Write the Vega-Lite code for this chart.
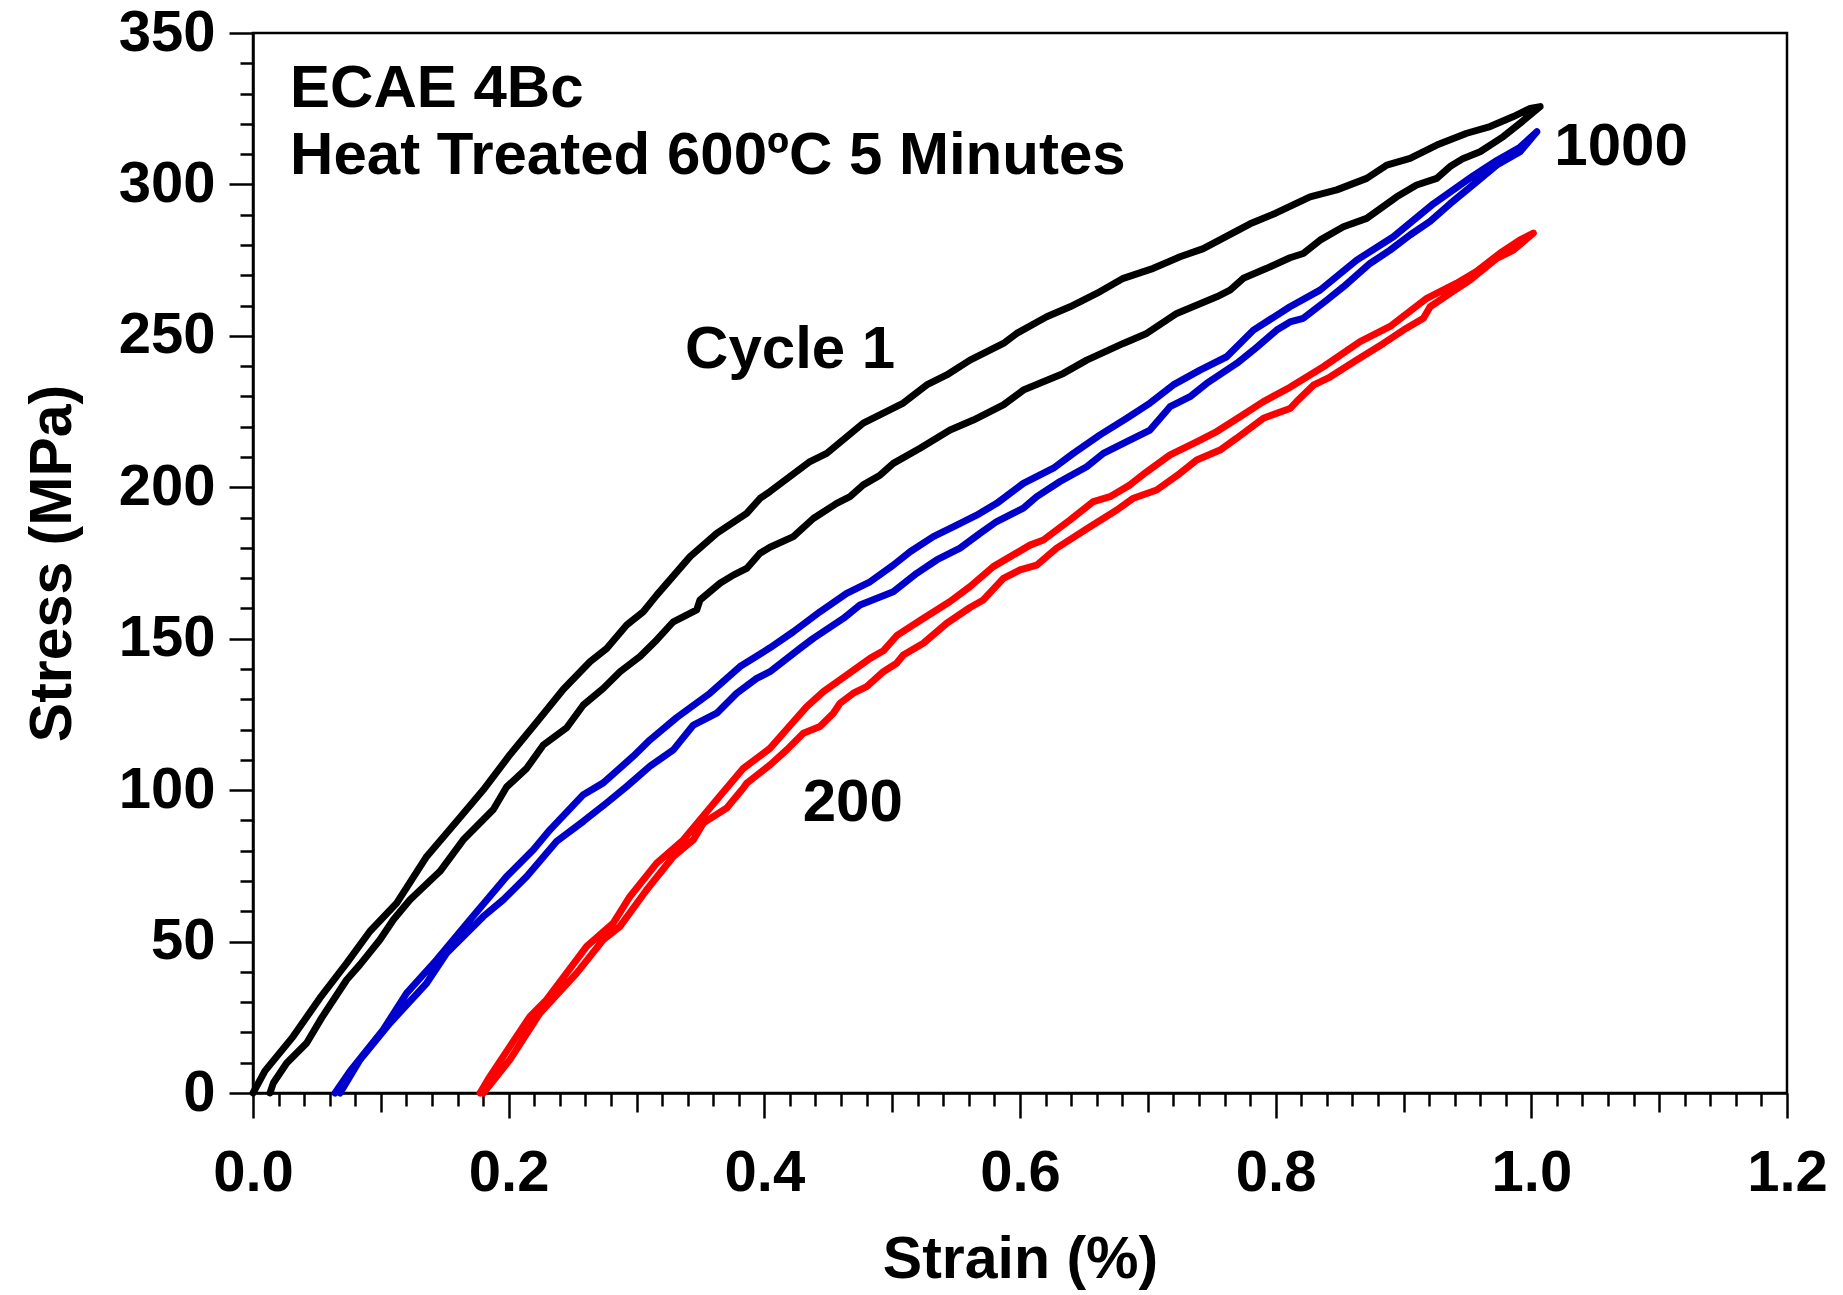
{
"$schema": "https://vega.github.io/schema/vega-lite/v6.json",
"width": 1534, "height": 1060,
"autosize": {"type": "none"},
"padding": {"left": 253, "top": 33, "right": 56, "bottom": 202},
"background": "white",
"config": {
  "view": {"stroke": "#000000", "strokeWidth": 2.5},
  "font": "Liberation Sans",
  "line": {"strokeWidth": 7},
  "axis": {"domainColor": "#000000", "domainWidth": 2.5, "tickColor": "#000000", "tickWidth": 2.5, "labelFont": "Liberation Sans", "labelFontWeight": "bold", "labelFontSize": 58, "labelColor": "#000000", "titleFont": "Liberation Sans", "titleFontWeight": "bold", "titleFontSize": 59, "titleColor": "#000000", "grid": false, "labelOverlap": false, "labelFlush": false, "labelBound": false}
},
"encoding": {
  "x": {"field": "x", "type": "quantitative", "scale": {"domain": [0, 1.2], "nice": false},
    "axis": {"title": "Strain (%)", "values": [0,0.02,0.04,0.06,0.08,0.1,0.12,0.14,0.16,0.18,0.2,0.22,0.24,0.26,0.28,0.3,0.32,0.34,0.36,0.38,0.4,0.42,0.44,0.46,0.48,0.5,0.52,0.54,0.56,0.58,0.6,0.62,0.64,0.66,0.68,0.7,0.72,0.74,0.76,0.78,0.8,0.82,0.84,0.86,0.88,0.9,0.92,0.94,0.96,0.98,1,1.02,1.04,1.06,1.08,1.1,1.12,1.14,1.16,1.18,1.2],
      "tickSize": {"condition": [{"test": "abs(datum.value*5-round(datum.value*5))<0.001", "value": 25}, {"test": "abs(datum.value*10-round(datum.value*10))<0.001", "value": 19}], "value": 13},
      "labelExpr": "abs(datum.value*5-round(datum.value*5))<0.001 ? format(datum.value,'.1f') : ''",
      "labelPadding": 26, "titlePadding": 28}},
  "y": {"field": "y", "type": "quantitative", "scale": {"domain": [0, 350], "nice": false},
    "axis": {"title": "Stress (MPa)", "values": [0,10,20,30,40,50,60,70,80,90,100,110,120,130,140,150,160,170,180,190,200,210,220,230,240,250,260,270,280,290,300,310,320,330,340,350],
      "tickSize": {"condition": [{"test": "abs(datum.value/50-round(datum.value/50))<0.001", "value": 24}], "value": 13},
      "labelExpr": "abs(datum.value/50-round(datum.value/50))<0.001 ? format(datum.value,'d') : ''",
      "labelPadding": 14, "titlePadding": 36}}
},
"layer": [
{
  "data": {"values": [
{"s":"k","x":0,"y":0},{"s":"k","x":0.0094,"y":7.3},{"s":"k","x":0.0315,"y":18.7},{"s":"k","x":0.0524,"y":31.4},{"s":"k","x":0.0733,"y":42.9},{"s":"k","x":0.0915,"y":53.4},{"s":"k","x":0.1124,"y":62.7},{"s":"k","x":0.1359,"y":78.1},{"s":"k","x":0.1594,"y":89.7},{"s":"k","x":0.1802,"y":100.1},{"s":"k","x":0.201,"y":111.7},{"s":"k","x":0.2219,"y":122.4},{"s":"k","x":0.2428,"y":133.3},{"s":"k","x":0.2636,"y":142.4},{"s":"k","x":0.2767,"y":146.8},{"s":"k","x":0.2923,"y":154.5},{"s":"k","x":0.3053,"y":158.9},{"s":"k","x":0.3158,"y":164.4},{"s":"k","x":0.3419,"y":177.1},{"s":"k","x":0.3627,"y":184.8},{"s":"k","x":0.3862,"y":191.4},{"s":"k","x":0.3966,"y":196.3},{"s":"k","x":0.4044,"y":198.6},{"s":"k","x":0.4357,"y":208.5},{"s":"k","x":0.4488,"y":211.2},{"s":"k","x":0.4774,"y":221.2},{"s":"k","x":0.5087,"y":227.8},{"s":"k","x":0.527,"y":233.8},{"s":"k","x":0.5427,"y":237.1},{"s":"k","x":0.5609,"y":242},{"s":"k","x":0.587,"y":247.5},{"s":"k","x":0.5974,"y":250.8},{"s":"k","x":0.6209,"y":256.3},{"s":"k","x":0.6391,"y":259.6},{"s":"k","x":0.66,"y":264},{"s":"k","x":0.6808,"y":269},{"s":"k","x":0.7043,"y":272.3},{"s":"k","x":0.7252,"y":276.1},{"s":"k","x":0.7434,"y":278.8},{"s":"k","x":0.76,"y":282.5},{"s":"k","x":0.78,"y":287},{"s":"k","x":0.8,"y":290.5},{"s":"k","x":0.8269,"y":295.9},{"s":"k","x":0.8478,"y":298.2},{"s":"k","x":0.8712,"y":302},{"s":"k","x":0.8869,"y":306.4},{"s":"k","x":0.9051,"y":308.6},{"s":"k","x":0.926,"y":313},{"s":"k","x":0.9495,"y":316.9},{"s":"k","x":0.9677,"y":319.1},{"s":"k","x":0.986,"y":322.4},{"s":"k","x":0.9991,"y":325.1},{"s":"k","x":1.0069,"y":325.7},
{"s":"k","x":0.9912,"y":320.2},{"s":"k","x":0.9781,"y":315.8},{"s":"k","x":0.9599,"y":310.8},{"s":"k","x":0.9468,"y":308.6},{"s":"k","x":0.9364,"y":305.9},{"s":"k","x":0.926,"y":302},{"s":"k","x":0.9103,"y":299.8},{"s":"k","x":0.8947,"y":295.9},{"s":"k","x":0.8712,"y":288.8},{"s":"k","x":0.853,"y":286},{"s":"k","x":0.8347,"y":281.6},{"s":"k","x":0.8216,"y":277.2},{"s":"k","x":0.8112,"y":275.8},{"s":"k","x":0.793,"y":272.3},{"s":"k","x":0.7747,"y":269},{"s":"k","x":0.7643,"y":265.1},{"s":"k","x":0.7539,"y":262.9},{"s":"k","x":0.7226,"y":257.4},{"s":"k","x":0.6991,"y":250.8},{"s":"k","x":0.6808,"y":247.5},{"s":"k","x":0.6522,"y":242},{"s":"k","x":0.6339,"y":237.6},{"s":"k","x":0.6026,"y":232.1},{"s":"k","x":0.587,"y":227.2},{"s":"k","x":0.5635,"y":222.2},{"s":"k","x":0.5453,"y":218.9},{"s":"k","x":0.5218,"y":212.9},{"s":"k","x":0.5009,"y":207.9},{"s":"k","x":0.4905,"y":204},{"s":"k","x":0.4774,"y":200.8},{"s":"k","x":0.467,"y":196.9},{"s":"k","x":0.4566,"y":194.7},{"s":"k","x":0.4383,"y":189.7},{"s":"k","x":0.4227,"y":183.7},{"s":"k","x":0.4044,"y":180.2},{"s":"k","x":0.3966,"y":178.2},{"s":"k","x":0.3862,"y":173.2},{"s":"k","x":0.3757,"y":171},{"s":"k","x":0.3653,"y":168.3},{"s":"k","x":0.3497,"y":162.8},{"s":"k","x":0.3471,"y":159.5},{"s":"k","x":0.3288,"y":155.6},{"s":"k","x":0.3158,"y":149.6},{"s":"k","x":0.3027,"y":144.1},{"s":"k","x":0.2871,"y":139.1},{"s":"k","x":0.274,"y":133.6},{"s":"k","x":0.2584,"y":128.1},{"s":"k","x":0.2454,"y":120.6},{"s":"k","x":0.2271,"y":114.9},{"s":"k","x":0.2141,"y":107.2},{"s":"k","x":0.1985,"y":101.1},{"s":"k","x":0.188,"y":93.6},{"s":"k","x":0.1645,"y":83.6},{"s":"k","x":0.1463,"y":73.2},{"s":"k","x":0.1228,"y":63.8},{"s":"k","x":0.1098,"y":57.2},{"s":"k","x":0.0993,"y":50.6},{"s":"k","x":0.0837,"y":42.4},{"s":"k","x":0.0733,"y":37.4},{"s":"k","x":0.0537,"y":24.8},{"s":"k","x":0.042,"y":16.5},{"s":"k","x":0.0264,"y":9.9},{"s":"k","x":0.0159,"y":3.3},{"s":"k","x":0.0133,"y":0},
{"s":"b","x":0.0642,"y":0},{"s":"b","x":0.0759,"y":7.2},{"s":"b","x":0.1019,"y":20.9},{"s":"b","x":0.1202,"y":33},{"s":"b","x":0.1437,"y":44},{"s":"b","x":0.1698,"y":57.2},{"s":"b","x":0.1984,"y":71.5},{"s":"b","x":0.2193,"y":80.3},{"s":"b","x":0.2323,"y":86.9},{"s":"b","x":0.2584,"y":98.5},{"s":"b","x":0.274,"y":102.4},{"s":"b","x":0.2975,"y":111.2},{"s":"b","x":0.3106,"y":116.6},{"s":"b","x":0.3315,"y":124},{"s":"b","x":0.3575,"y":132},{"s":"b","x":0.381,"y":140.8},{"s":"b","x":0.4044,"y":147},{"s":"b","x":0.4227,"y":152.3},{"s":"b","x":0.4435,"y":158.9},{"s":"b","x":0.4644,"y":165},{"s":"b","x":0.4827,"y":168.8},{"s":"b","x":0.5009,"y":174.3},{"s":"b","x":0.514,"y":178.7},{"s":"b","x":0.5322,"y":183.7},{"s":"b","x":0.5505,"y":187.5},{"s":"b","x":0.5661,"y":190.8},{"s":"b","x":0.5818,"y":194.7},{"s":"b","x":0.6026,"y":201.3},{"s":"b","x":0.6261,"y":206.3},{"s":"b","x":0.6417,"y":211.2},{"s":"b","x":0.6626,"y":217.3},{"s":"b","x":0.6835,"y":222.8},{"s":"b","x":0.7017,"y":227.8},{"s":"b","x":0.7199,"y":233.8},{"s":"b","x":0.7408,"y":238.7},{"s":"b","x":0.7617,"y":243.1},{"s":"b","x":0.7826,"y":251.9},{"s":"b","x":0.8112,"y":259.6},{"s":"b","x":0.8347,"y":265.1},{"s":"b","x":0.8634,"y":275},{"s":"b","x":0.8921,"y":282.7},{"s":"b","x":0.9234,"y":293.6},{"s":"b","x":0.9547,"y":302.9},{"s":"b","x":0.973,"y":307.9},{"s":"b","x":0.9912,"y":312.3},{"s":"b","x":1.0043,"y":317.4},
{"s":"b","x":0.9912,"y":310.8},{"s":"b","x":0.973,"y":306.4},{"s":"b","x":0.9573,"y":300.9},{"s":"b","x":0.9364,"y":293.6},{"s":"b","x":0.9208,"y":287.8},{"s":"b","x":0.9051,"y":283.3},{"s":"b","x":0.8895,"y":278.3},{"s":"b","x":0.8738,"y":273.9},{"s":"b","x":0.853,"y":266.2},{"s":"b","x":0.84,"y":261.8},{"s":"b","x":0.8216,"y":255.8},{"s":"b","x":0.8112,"y":254.6},{"s":"b","x":0.8008,"y":251.9},{"s":"b","x":0.7826,"y":245.3},{"s":"b","x":0.7695,"y":240.9},{"s":"b","x":0.746,"y":234.3},{"s":"b","x":0.733,"y":229.9},{"s":"b","x":0.7174,"y":226.6},{"s":"b","x":0.7017,"y":218.9},{"s":"b","x":0.6808,"y":214.5},{"s":"b","x":0.6652,"y":211.2},{"s":"b","x":0.6522,"y":206.8},{"s":"b","x":0.6313,"y":201.9},{"s":"b","x":0.6131,"y":196.9},{"s":"b","x":0.6026,"y":193.1},{"s":"b","x":0.5818,"y":188.7},{"s":"b","x":0.5687,"y":184.8},{"s":"b","x":0.5531,"y":179.9},{"s":"b","x":0.5348,"y":176},{"s":"b","x":0.5192,"y":171.6},{"s":"b","x":0.5009,"y":165.5},{"s":"b","x":0.4748,"y":161.1},{"s":"b","x":0.4618,"y":156.7},{"s":"b","x":0.4383,"y":150.1},{"s":"b","x":0.4279,"y":146.8},{"s":"b","x":0.4044,"y":139.1},{"s":"b","x":0.394,"y":136.9},{"s":"b","x":0.3784,"y":132},{"s":"b","x":0.3628,"y":125.4},{"s":"b","x":0.3445,"y":121.5},{"s":"b","x":0.3288,"y":113.3},{"s":"b","x":0.3106,"y":107.9},{"s":"b","x":0.2923,"y":101.2},{"s":"b","x":0.2767,"y":95.8},{"s":"b","x":0.2584,"y":89.7},{"s":"b","x":0.2376,"y":83.1},{"s":"b","x":0.2141,"y":71.5},{"s":"b","x":0.1958,"y":63.8},{"s":"b","x":0.1802,"y":58.3},{"s":"b","x":0.1515,"y":46.2},{"s":"b","x":0.1359,"y":36.3},{"s":"b","x":0.1072,"y":23.1},{"s":"b","x":0.0837,"y":11},{"s":"b","x":0.0681,"y":0},
{"s":"r","x":0.1776,"y":0},{"s":"r","x":0.1854,"y":5.5},{"s":"r","x":0.201,"y":15.4},{"s":"r","x":0.2167,"y":25.3},{"s":"r","x":0.2297,"y":30.8},{"s":"r","x":0.261,"y":48.4},{"s":"r","x":0.2818,"y":56.1},{"s":"r","x":0.2949,"y":64.9},{"s":"r","x":0.3158,"y":75.9},{"s":"r","x":0.3367,"y":83.6},{"s":"r","x":0.3628,"y":96.8},{"s":"r","x":0.3836,"y":107.2},{"s":"r","x":0.4044,"y":113.8},{"s":"r","x":0.4227,"y":122.6},{"s":"r","x":0.4332,"y":127.6},{"s":"r","x":0.4462,"y":132.5},{"s":"r","x":0.4644,"y":138},{"s":"r","x":0.4827,"y":143.5},{"s":"r","x":0.4931,"y":146},{"s":"r","x":0.5035,"y":151},{"s":"r","x":0.5218,"y":156},{"s":"r","x":0.5453,"y":162.3},{"s":"r","x":0.5609,"y":167.2},{"s":"r","x":0.5791,"y":173.8},{"s":"r","x":0.6078,"y":180.9},{"s":"r","x":0.6183,"y":182.6},{"s":"r","x":0.6391,"y":189.2},{"s":"r","x":0.6574,"y":195.3},{"s":"r","x":0.6704,"y":196.9},{"s":"r","x":0.6861,"y":200.8},{"s":"r","x":0.6991,"y":205.1},{"s":"r","x":0.7174,"y":210.7},{"s":"r","x":0.7382,"y":215},{"s":"r","x":0.7539,"y":218.4},{"s":"r","x":0.7721,"y":223.3},{"s":"r","x":0.7904,"y":228.3},{"s":"r","x":0.8112,"y":233},{"s":"r","x":0.8373,"y":239.8},{"s":"r","x":0.866,"y":248.1},{"s":"r","x":0.8895,"y":253.1},{"s":"r","x":0.9182,"y":262.4},{"s":"r","x":0.9416,"y":267.4},{"s":"r","x":0.9573,"y":271.3},{"s":"r","x":0.9755,"y":277.3},{"s":"r","x":0.9912,"y":281.7},{"s":"r","x":1.0016,"y":283.9},
{"s":"r","x":0.9938,"y":281.1},{"s":"r","x":0.986,"y":278.3},{"s":"r","x":0.973,"y":275.6},{"s":"r","x":0.9521,"y":268.4},{"s":"r","x":0.9364,"y":264},{"s":"r","x":0.9208,"y":259.6},{"s":"r","x":0.9156,"y":255.8},{"s":"r","x":0.8999,"y":251.9},{"s":"r","x":0.8843,"y":247.5},{"s":"r","x":0.8634,"y":242},{"s":"r","x":0.8425,"y":236.4},{"s":"r","x":0.8295,"y":233.7},{"s":"r","x":0.8164,"y":228.3},{"s":"r","x":0.8112,"y":226},{"s":"r","x":0.7904,"y":222.8},{"s":"r","x":0.7695,"y":216.2},{"s":"r","x":0.7565,"y":212.3},{"s":"r","x":0.7382,"y":209},{"s":"r","x":0.7252,"y":204.6},{"s":"r","x":0.7069,"y":199.1},{"s":"r","x":0.6887,"y":196.4},{"s":"r","x":0.6757,"y":192.5},{"s":"r","x":0.6548,"y":187},{"s":"r","x":0.6287,"y":179.9},{"s":"r","x":0.6131,"y":174.3},{"s":"r","x":0.6,"y":172.7},{"s":"r","x":0.587,"y":169.9},{"s":"r","x":0.5713,"y":162.8},{"s":"r","x":0.5609,"y":160.3},{"s":"r","x":0.5427,"y":155.1},{"s":"r","x":0.5244,"y":148.5},{"s":"r","x":0.5087,"y":144.6},{"s":"r","x":0.5035,"y":141.9},{"s":"r","x":0.4931,"y":139.1},{"s":"r","x":0.4801,"y":134.2},{"s":"r","x":0.4696,"y":132},{"s":"r","x":0.4592,"y":128.7},{"s":"r","x":0.454,"y":125.4},{"s":"r","x":0.4435,"y":121},{"s":"r","x":0.4305,"y":118.8},{"s":"r","x":0.4175,"y":113.3},{"s":"r","x":0.4044,"y":108.3},{"s":"r","x":0.3862,"y":102.3},{"s":"r","x":0.3836,"y":100.7},{"s":"r","x":0.3706,"y":94.1},{"s":"r","x":0.3524,"y":89.2},{"s":"r","x":0.3445,"y":83.6},{"s":"r","x":0.3288,"y":78.1},{"s":"r","x":0.308,"y":67.1},{"s":"r","x":0.2871,"y":55},{"s":"r","x":0.274,"y":50.6},{"s":"r","x":0.2532,"y":39.6},{"s":"r","x":0.2245,"y":26.4},{"s":"r","x":0.201,"y":11},{"s":"r","x":0.1802,"y":0}
  ]},
  "mark": {"type": "line", "strokeWidth": 7, "strokeJoin": "round", "strokeCap": "round"},
  "encoding": {
    "color": {"field": "s", "type": "nominal", "scale": {"domain": ["k", "b", "r"], "range": ["#000000", "#0000CC", "#FF0000"]}, "legend": null},
    "strokeWidth": {"value": 7},
    "order": {"value": null}
  }
},
{
  "data": {"values": [
    {"t": "ECAE 4Bc", "x": 0.029, "y": 331.5},
    {"t": "Heat Treated 600ºC 5 Minutes", "x": 0.029, "y": 309.5},
    {"t": "Cycle 1", "x": 0.338, "y": 245.3},
    {"t": "200", "x": 0.43, "y": 95.8},
    {"t": "1000", "x": 1.018, "y": 312.2}
  ]},
  "mark": {"type": "text", "align": "left", "baseline": "middle", "font": "Liberation Sans", "fontWeight": "bold", "fontSize": 60, "color": "#000000"},
  "encoding": {
    "text": {"field": "t"}
  }
}
]
}
